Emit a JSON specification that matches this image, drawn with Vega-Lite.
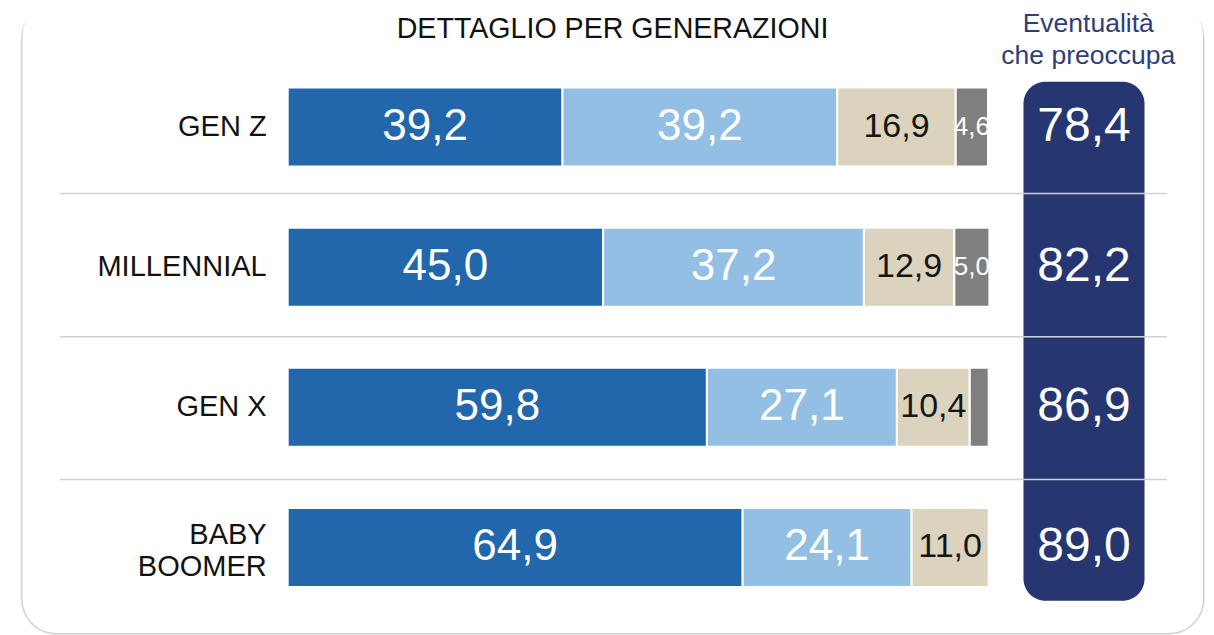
{
  "$schema": "https://vega.github.io/schema/vega-lite/v6.json",
  "width": 1214,
  "height": 635,
  "autosize": {"type": "fit", "contains": "padding"},
  "padding": 0,
  "background": "white",
  "config": {
    "view": {"stroke": null},
    "font": "Liberation Sans",
    "locale": {"number": {"decimal": ",", "thousands": ".", "grouping": [3], "currency": ["€", ""]}}
  },
  "datasets": {
    "segments": [
      {"gen": "GEN Z", "seg": 1, "value": 39.2},
      {"gen": "GEN Z", "seg": 2, "value": 39.2},
      {"gen": "GEN Z", "seg": 3, "value": 16.9},
      {"gen": "GEN Z", "seg": 4, "value": 4.6},
      {"gen": "MILLENNIAL", "seg": 1, "value": 45.0},
      {"gen": "MILLENNIAL", "seg": 2, "value": 37.2},
      {"gen": "MILLENNIAL", "seg": 3, "value": 12.9},
      {"gen": "MILLENNIAL", "seg": 4, "value": 5.0},
      {"gen": "GEN X", "seg": 1, "value": 59.8},
      {"gen": "GEN X", "seg": 2, "value": 27.1},
      {"gen": "GEN X", "seg": 3, "value": 10.4},
      {"gen": "GEN X", "seg": 4, "value": 2.7},
      {"gen": "BABY BOOMER", "seg": 1, "value": 64.9},
      {"gen": "BABY BOOMER", "seg": 2, "value": 24.1},
      {"gen": "BABY BOOMER", "seg": 3, "value": 11.0}
    ],
    "totals": [
      {"gen": "GEN Z", "label": "GEN Z", "total": 78.4},
      {"gen": "MILLENNIAL", "label": "MILLENNIAL", "total": 82.2},
      {"gen": "GEN X", "label": "GEN X", "total": 86.9},
      {"gen": "BABY BOOMER", "label": "BABY\nBOOMER", "total": 89.0}
    ]
  },
  "layer": [
    {
      "data": {"values": [{}]},
      "layer": [
        {
          "mark": {"type": "rect", "fill": "#ececec", "cornerRadius": 36},
          "encoding": {
            "x": {"datum": -38.12, "type": "quantitative", "axis": null, "scale": {"domain": [-41.04, 132.14], "nice": false, "zero": false}},
            "x2": {"datum": 130.85},
            "y": {"datum": -0.875, "type": "quantitative", "axis": null, "scale": {"domain": [-0.9062, 3.6247], "nice": false, "zero": false, "reverse": true}},
            "y2": {"datum": 3.6247}
          }
        },
        {
          "mark": {"type": "rect", "fill": "#cccccc", "cornerRadius": 35},
          "encoding": {
            "x": {"datum": -37.97, "type": "quantitative"},
            "x2": {"datum": 130.71},
            "y": {"datum": -0.885, "type": "quantitative"},
            "y2": {"datum": 3.6175}
          }
        },
        {
          "mark": {"type": "rect", "fill": "white", "cornerRadius": 34},
          "encoding": {
            "x": {"datum": -37.83, "type": "quantitative"},
            "x2": {"datum": 130.57},
            "y": {"datum": -0.8919, "type": "quantitative"},
            "y2": {"datum": 3.6104}
          }
        },
        {
          "mark": {"type": "rect", "fill": "#253670", "cornerRadius": 22},
          "encoding": {
            "x": {"datum": 104.96, "type": "quantitative"},
            "x2": {"datum": 122.23},
            "y": {"datum": -0.3232, "type": "quantitative"},
            "y2": {"datum": 3.38}
          }
        },
        {
          "mark": {"type": "rule", "stroke": "#cbd4d5", "strokeWidth": 1.5},
          "encoding": {
            "x": {"datum": -32.48, "type": "quantitative"},
            "x2": {"datum": 125.43},
            "y": {"datum": 0.4745, "type": "quantitative"}
          }
        },
        {
          "mark": {"type": "rule", "stroke": "#cbd4d5", "strokeWidth": 1.5},
          "encoding": {
            "x": {"datum": -32.48, "type": "quantitative"},
            "x2": {"datum": 125.43},
            "y": {"datum": 1.4963, "type": "quantitative"}
          }
        },
        {
          "mark": {"type": "rule", "stroke": "#cbd4d5", "strokeWidth": 1.5},
          "encoding": {
            "x": {"datum": -32.48, "type": "quantitative"},
            "x2": {"datum": 125.43},
            "y": {"datum": 2.5152, "type": "quantitative"}
          }
        },
        {
          "mark": {"type": "text", "fontSize": 28.6, "color": "#111111", "align": "center", "baseline": "middle"},
          "encoding": {
            "x": {"datum": 46.34, "type": "quantitative"},
            "y": {"datum": -0.7, "type": "quantitative"},
            "text": {"value": "DETTAGLIO PER GENERAZIONI"}
          }
        },
        {
          "mark": {"type": "text", "fontSize": 26.5, "color": "#2f3e78", "align": "center", "baseline": "middle", "lineBreak": "\n", "lineHeight": 32},
          "encoding": {
            "x": {"datum": 114.2, "type": "quantitative"},
            "y": {"datum": -0.7378, "type": "quantitative"},
            "text": {"value": "Eventualità\nche preoccupa"}
          }
        }
      ]
    },
    {
      "layer": [
        {
          "data": {"name": "segments"},
          "mark": {"type": "bar", "stroke": "white", "strokeWidth": 2},
          "encoding": {
            "y": {"field": "gen", "type": "nominal", "axis": null, "sort": ["GEN Z", "MILLENNIAL", "GEN X", "BABY BOOMER"], "scale": {"domain": ["GEN Z", "MILLENNIAL", "GEN X", "BABY BOOMER"], "paddingInner": 0.4363, "paddingOuter": 0.4836, "align": 0.6455}},
            "x": {"field": "value", "type": "quantitative", "stack": "zero", "axis": null},
            "color": {"field": "seg", "type": "nominal", "legend": null, "scale": {"domain": [1, 2, 3, 4], "range": ["#2266ac", "#92bfe3", "#dbd3be", "#7f7f7f"]}},
            "order": {"field": "seg", "type": "quantitative"}
          }
        },
        {
          "data": {"name": "segments"},
          "transform": [{"filter": "datum.value >= 4"}],
          "mark": {"type": "text", "align": "center", "baseline": "middle"},
          "encoding": {
            "y": {"field": "gen", "type": "nominal"},
            "x": {"field": "value", "type": "quantitative", "stack": "zero", "bandPosition": 0.5},
            "detail": {"field": "seg", "type": "nominal"},
            "order": {"field": "seg", "type": "quantitative"},
            "text": {"field": "value", "type": "quantitative", "format": ".1f"},
            "color": {"condition": {"test": "datum.seg == 3", "value": "#151515"}, "value": "white"},
            "size": {"condition": [{"test": "datum.seg == 3", "value": 34}, {"test": "datum.seg == 4", "value": 26}], "value": 44}
          }
        },
        {
          "data": {"name": "totals"},
          "transform": [{"filter": "datum.gen != 'BABY BOOMER'"}],
          "mark": {"type": "text", "align": "right", "baseline": "middle", "fontSize": 29, "color": "#111111", "dx": -21},
          "encoding": {
            "y": {"field": "gen", "type": "nominal"},
            "x": {"datum": 0, "type": "quantitative"},
            "text": {"field": "label", "type": "nominal"}
          }
        },
        {
          "data": {"name": "totals"},
          "transform": [{"filter": "datum.gen == 'BABY BOOMER'"}],
          "mark": {"type": "text", "align": "right", "baseline": "middle", "fontSize": 29, "color": "#111111", "dx": -21, "dy": -12, "lineBreak": "\n", "lineHeight": 32},
          "encoding": {
            "y": {"field": "gen", "type": "nominal"},
            "x": {"datum": 0, "type": "quantitative"},
            "text": {"field": "label", "type": "nominal"}
          }
        },
        {
          "data": {"name": "totals"},
          "mark": {"type": "text", "align": "center", "baseline": "middle", "fontSize": 48, "color": "white"},
          "encoding": {
            "y": {"field": "gen", "type": "nominal"},
            "x": {"datum": 113.6, "type": "quantitative"},
            "text": {"field": "total", "type": "quantitative", "format": ".1f"}
          }
        }
      ]
    }
  ],
  "resolve": {"scale": {"y": "independent"}}
}
